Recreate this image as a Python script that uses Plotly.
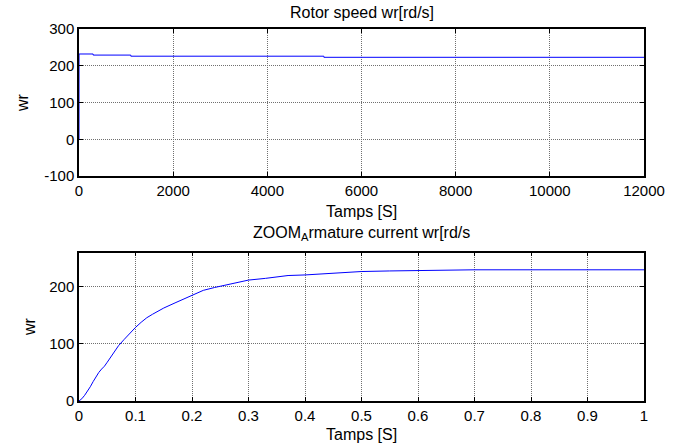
import plotly.graph_objects as go

# Top: rotor speed over long time
t_long = [0, 0.5, 1, 300, 301, 1100, 1101, 5200, 5201, 12000]
wr_long = [0, 150, 232, 232, 229, 229, 226, 226, 223, 223]

# Bottom: zoom 0..1 s
t_zoom = [0, 0.005, 0.01, 0.015, 0.02, 0.025, 0.03, 0.035, 0.04, 0.045, 0.05, 0.055, 0.06, 0.065, 0.07,
          0.08, 0.09, 0.1, 0.11, 0.12, 0.13, 0.14, 0.15, 0.17, 0.19, 0.2, 0.22, 0.24, 0.25, 0.27,
          0.3, 0.33, 0.35, 0.37, 0.4, 0.45, 0.5, 0.55, 0.6, 0.65, 0.7, 0.8, 0.9, 1.0]
wr_zoom = [0, 4, 10, 17, 25, 34, 43, 50, 56, 61, 68, 75, 82, 90, 97,
           108, 119, 129, 138, 146, 152, 158, 163, 172, 181, 186, 194, 199, 201, 206,
           212, 215, 217, 220, 221, 224, 227, 228, 229, 230, 230, 230, 230, 230]

xt_top = [0, 2000, 4000, 6000, 8000, 10000, 12000]
xt_top_labels = ["0", "2000", "4000", "6000", "8000", "10000", "12000"]
yt_top = [-100, 0, 100, 200, 300]
yt_top_labels = ["-100", "0", "100", "200", "300"]
xt_bot = [0, 0.1, 0.2, 0.3, 0.4, 0.5, 0.6, 0.7, 0.8, 0.9, 1]
xt_bot_labels = ["0", "0.1", "0.2", "0.3", "0.4", "0.5", "0.6", "0.7", "0.8", "0.9", "1"]
yt_bot = [0, 100, 200]
yt_bot_labels = ["0", "100", "200"]

W, H = 681, 445
FAM = "Liberation Sans, Arial, sans-serif"
font = dict(family=FAM, size=15, color="black")
tfont = dict(family=FAM, size=16, color="black")

fig = go.Figure()
fig.add_trace(go.Scatter(x=t_long, y=wr_long, mode="lines", line=dict(color="#0000ff", width=1),
                         xaxis="x", yaxis="y", showlegend=False))
fig.add_trace(go.Scatter(x=t_zoom, y=wr_zoom, mode="lines", line=dict(color="#0000ff", width=1),
                         xaxis="x2", yaxis="y2", showlegend=False))

x0, x1 = 79 / W, 644 / W
common_ax = dict(showline=True, linecolor="black", linewidth=1.5, mirror="ticks",
                 ticks="inside", ticklen=4, tickcolor="black",
                 showgrid=True, gridcolor="#707070", gridwidth=1, griddash="1px,1px",
                 zeroline=False, tickfont=font, automargin=False)

def ann(text, xpx, ypx, angle=0):
    return dict(text=text, x=xpx / W, y=1 - ypx / H, xref="paper", yref="paper",
                showarrow=False, font=tfont, xanchor="center", yanchor="middle", textangle=angle)

fig.update_layout(
    width=W, height=H, margin=dict(l=0, r=0, t=0, b=0),
    paper_bgcolor="white", plot_bgcolor="white", font=font,
    xaxis=dict(domain=[x0, x1], range=[0, 12000], tickvals=xt_top, ticktext=xt_top_labels, anchor="y",
               **common_ax),
    yaxis=dict(domain=[1 - 176 / H, 1 - 29 / H], range=[-100, 300], tickvals=yt_top, ticktext=yt_top_labels,
               anchor="x", **common_ax),
    xaxis2=dict(domain=[x0, x1], range=[0, 1], tickvals=xt_bot, ticktext=xt_bot_labels, anchor="y2",
                **common_ax),
    yaxis2=dict(domain=[1 - 401 / H, 1 - 252.7 / H], range=[0, 260], tickvals=yt_bot, ticktext=yt_bot_labels,
                anchor="x2", **common_ax),
    annotations=[
        ann("Rotor speed wr[rd/s]", 361.5, 12.5),
        ann("Tamps [S]", 361.5, 211),
        ann("wr", 23, 103, -90),
        ann("ZOOM<sub>A</sub>rmature current wr[rd/s", 361.5, 233),
        ann("Tamps [S]", 361.5, 434),
        ann("wr", 29, 327, -90),
    ],
)

fig.write_html("out.html", config={"displayModeBar": False},
               post_script="document.body.style.margin='0';document.body.style.overflow='hidden';")
